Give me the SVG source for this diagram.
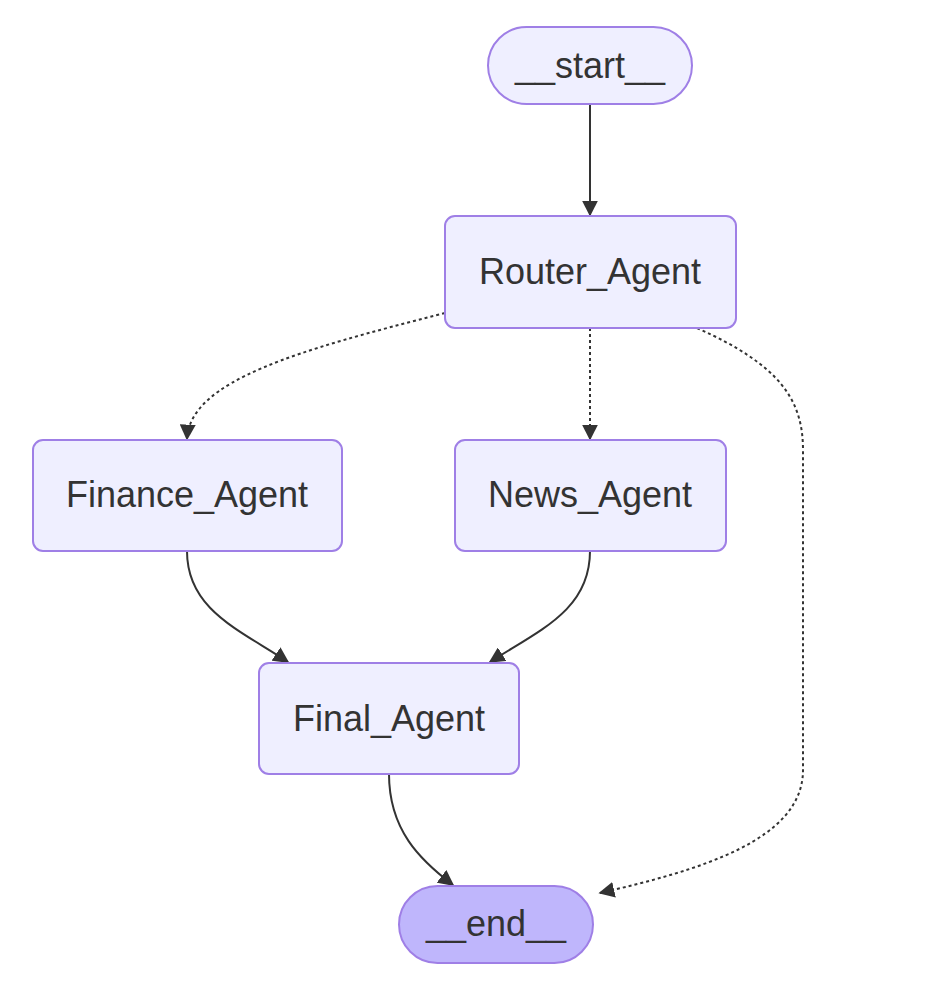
<svg xmlns="http://www.w3.org/2000/svg" width="925" height="993" viewBox="0 0 925 993">
<defs>
<style>
.node rect{fill:#ECECFF;fill-opacity:0.85;stroke:#9F7FE6;stroke-width:2}
.node.end rect{fill:#BFB6FC;fill-opacity:1}
.node text{font-family:"Liberation Sans",Arial,sans-serif;font-size:36px;fill:#333;text-anchor:middle;dominant-baseline:central}
.edge{fill:none;stroke:#333;stroke-width:2}
.dash{stroke-dasharray:3,3}
</style>
<marker id="arr" viewBox="0 0 10 10" refX="9" refY="5" markerWidth="8" markerHeight="8" markerUnits="strokeWidth" orient="auto">
<path d="M0,0 L10,5 L0,10 z" fill="#333"/>
</marker>
</defs>
<rect width="925" height="993" fill="#fff"/>
<g id="connectors">
<path class="edge" d="M590,104 L590,215" marker-end="url(#arr)"/>
<path class="edge dash" d="M445,313 C300,350 190,380 187,439" marker-end="url(#arr)"/>
<path class="edge dash" d="M590,328 L590,439" marker-end="url(#arr)"/>
<path class="edge dash" d="M697,328 C780,365 803,400 803,450 L803,770 C803,840 700,870 600,893" marker-end="url(#arr)"/>
<path class="edge" d="M187,551 C187,610 240,630 288,662" marker-end="url(#arr)"/>
<path class="edge" d="M590,551 C590,610 540,630 490,662" marker-end="url(#arr)"/>
<path class="edge" d="M389,774 C389,830 420,860 453,885" marker-end="url(#arr)"/>
</g>
<g id="start" class="node"><rect x="488" y="27" width="204" height="77" rx="38.5"/><text x="590" y="65">__start__</text></g>
<g id="Router_Agent" class="node"><rect x="445" y="216" width="291" height="112" rx="10"/><text x="590" y="271">Router_Agent</text></g>
<g id="Finance_Agent" class="node"><rect x="33" y="440" width="309" height="111" rx="10"/><text x="187" y="494">Finance_Agent</text></g>
<g id="News_Agent" class="node"><rect x="455" y="440" width="271" height="111" rx="10"/><text x="590" y="494">News_Agent</text></g>
<g id="Final_Agent" class="node"><rect x="259" y="663" width="260" height="111" rx="10"/><text x="389" y="718">Final_Agent</text></g>
<g id="end" class="node end"><rect x="399" y="886" width="194" height="77" rx="38.5"/><text x="496" y="923">__end__</text></g>
</svg>
